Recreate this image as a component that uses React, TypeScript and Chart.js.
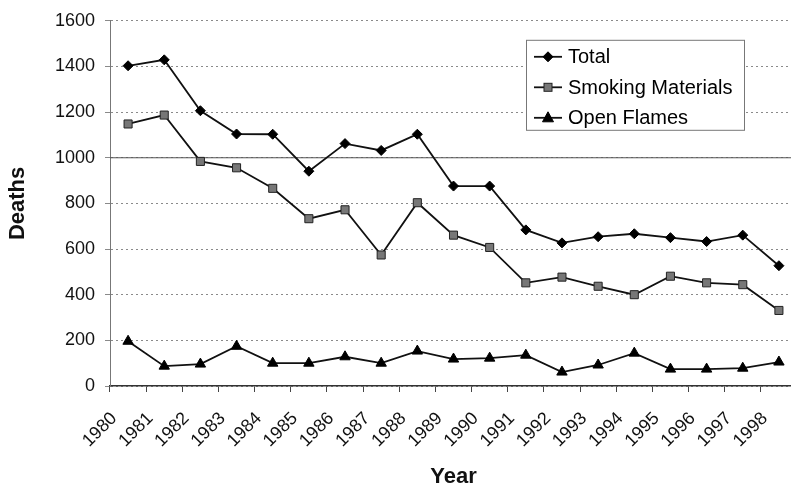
import React, { useEffect, useRef } from 'react';
import { Chart, registerables } from 'chart.js';

Chart.register(...registerables);

const YEARS = ['1980', '1981', '1982', '1983', '1984', '1985', '1986', '1987', '1988', '1989', '1990', '1991', '1992', '1993', '1994', '1995', '1996', '1997', '1998'];
const TOTAL = [1403, 1429, 1206, 1104, 1103, 941, 1062, 1032, 1103, 876, 876, 684, 627, 654, 667, 650, 633, 661, 527];
const SMOKING = [1148, 1187, 984, 956, 866, 733, 772, 574, 803, 661, 607, 452, 477, 437, 400, 481, 452, 444, 331];
const OPEN_FLAMES = [196, 87, 96, 174, 100, 100, 128, 100, 153, 118, 122, 135, 61, 92, 144, 74, 74, 78, 105];
const SERIES_LABELS = ['Total', 'Smoking Materials', 'Open Flames'];
const Y_MIN = 0;
const Y_MAX = 1600;
const Y_STEP = 200;
const REF_VALUE = 1000;

const FONT = '"Liberation Sans", Arial, Helvetica, sans-serif';

function drawMarker(ctx: CanvasRenderingContext2D, kind: string, x: number, y: number) {
  ctx.save();
  ctx.lineWidth = 1;
  if (kind === 'diamond') {
    ctx.fillStyle = '#000';
    ctx.strokeStyle = '#000';
    ctx.beginPath();
    ctx.moveTo(x, y - 5);
    ctx.lineTo(x + 5, y);
    ctx.lineTo(x, y + 5);
    ctx.lineTo(x - 5, y);
    ctx.closePath();
    ctx.fill();
    ctx.stroke();
  } else if (kind === 'square') {
    ctx.fillStyle = '#777';
    ctx.strokeStyle = '#222';
    ctx.fillRect(x - 4, y - 4, 8, 8);
    ctx.strokeRect(x - 4, y - 4, 8, 8);
  } else {
    ctx.fillStyle = '#000';
    ctx.strokeStyle = '#000';
    ctx.beginPath();
    ctx.moveTo(x, y - 6);
    ctx.lineTo(x + 5.5, y + 4);
    ctx.lineTo(x - 5.5, y + 4);
    ctx.closePath();
    ctx.fill();
    ctx.stroke();
  }
  ctx.restore();
}

const refLinePlugin = {
  id: 'refLine',
  beforeDatasetsDraw(chart: any) {
    const { ctx, chartArea, scales } = chart;
    const y = scales.y.getPixelForValue(REF_VALUE);
    ctx.save();
    ctx.setLineDash([]);
    ctx.strokeStyle = '#555';
    ctx.lineWidth = 1.2;
    ctx.beginPath();
    ctx.moveTo(chartArea.left, y);
    ctx.lineTo(chartArea.right, y);
    ctx.stroke();
    ctx.restore();
  },
};

const boxLegendPlugin = {
  id: 'boxLegend',
  afterDatasetsDraw(chart: any) {
    const { ctx, chartArea } = chart;
    const x0 = chartArea.right - 271;
    const y0 = chartArea.top + 19;
    const w = 218;
    const h = 90;
    const rowH = 30.5;
    const kinds = ['diamond', 'square', 'triangle'];
    ctx.save();
    ctx.setLineDash([]);
    ctx.fillStyle = '#fff';
    ctx.fillRect(x0, y0, w, h);
    ctx.strokeStyle = '#777';
    ctx.lineWidth = 1;
    ctx.strokeRect(x0 + 0.5, y0 + 0.5, w, h);
    SERIES_LABELS.forEach((label, i) => {
      const cy = y0 + 17 + i * rowH;
      ctx.strokeStyle = '#111';
      ctx.lineWidth = 1.8;
      ctx.beginPath();
      ctx.moveTo(x0 + 8, cy);
      ctx.lineTo(x0 + 36, cy);
      ctx.stroke();
      drawMarker(ctx, kinds[i], x0 + 22, cy);
      ctx.fillStyle = '#000';
      ctx.font = `20px ${FONT}`;
      ctx.textBaseline = 'middle';
      ctx.textAlign = 'left';
      ctx.fillText(label, x0 + 42, cy + 1);
    });
    ctx.restore();
  },
};

export default function App() {
  const canvasRef = useRef<HTMLCanvasElement | null>(null);

  useEffect(() => {
    if (!canvasRef.current) return;
    const chart = new Chart(canvasRef.current, {
      type: 'line',
      data: {
        labels: YEARS,
        datasets: [
          {
            label: SERIES_LABELS[0],
            data: TOTAL,
            borderColor: '#111',
            backgroundColor: '#000',
            borderWidth: 1.8,
            pointStyle: 'rectRot',
            pointRadius: 5,
            pointBorderColor: '#000',
            pointBackgroundColor: '#000',
            pointBorderWidth: 1,
            tension: 0,
          },
          {
            label: SERIES_LABELS[1],
            data: SMOKING,
            borderColor: '#111',
            backgroundColor: '#777',
            borderWidth: 1.8,
            pointStyle: 'rect',
            pointRadius: 5.7,
            pointBorderColor: '#222',
            pointBackgroundColor: '#777',
            pointBorderWidth: 1,
            tension: 0,
          },
          {
            label: SERIES_LABELS[2],
            data: OPEN_FLAMES,
            borderColor: '#111',
            backgroundColor: '#000',
            borderWidth: 1.8,
            pointStyle: 'triangle',
            pointRadius: 6,
            pointBorderColor: '#000',
            pointBackgroundColor: '#000',
            pointBorderWidth: 1,
            tension: 0,
          },
        ],
      },
      options: {
        animation: false,
        responsive: true,
        maintainAspectRatio: false,
        layout: { padding: { top: 19, right: 0, left: 0, bottom: 0 } },
        plugins: {
          legend: { display: false },
          tooltip: { enabled: false },
        },
        scales: {
          x: {
            type: 'category',
            offset: true,
            grid: { display: true, drawOnChartArea: false, offset: true, tickLength: 6, color: '#444' },
            border: { display: true, color: '#333', width: 1.5 },
            ticks: {
              autoSkip: false,
              minRotation: 45,
              maxRotation: 45,
              labelOffset: -14,
              padding: 16,
              color: '#111',
              font: { size: 18, family: FONT },
            },
            title: {
              display: true,
              text: 'Year',
              color: '#111',
              font: { size: 22, weight: 'bold', family: FONT },
              padding: { top: 0, bottom: 1 },
            },
            afterFit: (s: any) => {
              s.height = 105;
              s.paddingLeft = 0;
              s.paddingRight = 0;
            },
          },
          y: {
            min: Y_MIN,
            max: Y_MAX,
            ticks: {
              stepSize: Y_STEP,
              padding: 10,
              color: '#111',
              font: { size: 18, family: FONT },
              callback: (v: any) => String(v),
            },
            grid: { color: '#8a8a8a', lineWidth: 1, tickLength: 5, tickBorderDash: [], borderDash: [2, 3] },
            border: { display: true, color: '#777', width: 1, dash: [2, 3] },
            title: {
              display: true,
              text: 'Deaths',
              color: '#111',
              font: { size: 22, weight: 'bold', family: FONT },
              padding: { top: 5, bottom: 0 },
            },
            afterFit: (s: any) => {
              s.width = 110;
            },
          },
        },
      },
      plugins: [refLinePlugin, boxLegendPlugin],
    } as any);
    return () => chart.destroy();
  }, []);

  return (
    <div style={{ position: 'fixed', left: 0, top: 0, width: 791, height: 491, overflow: 'hidden', background: '#fff' }}>
      <div style={{ position: 'relative', width: 804, height: 491 }}>
        <canvas ref={canvasRef} />
      </div>
    </div>
  );
}
